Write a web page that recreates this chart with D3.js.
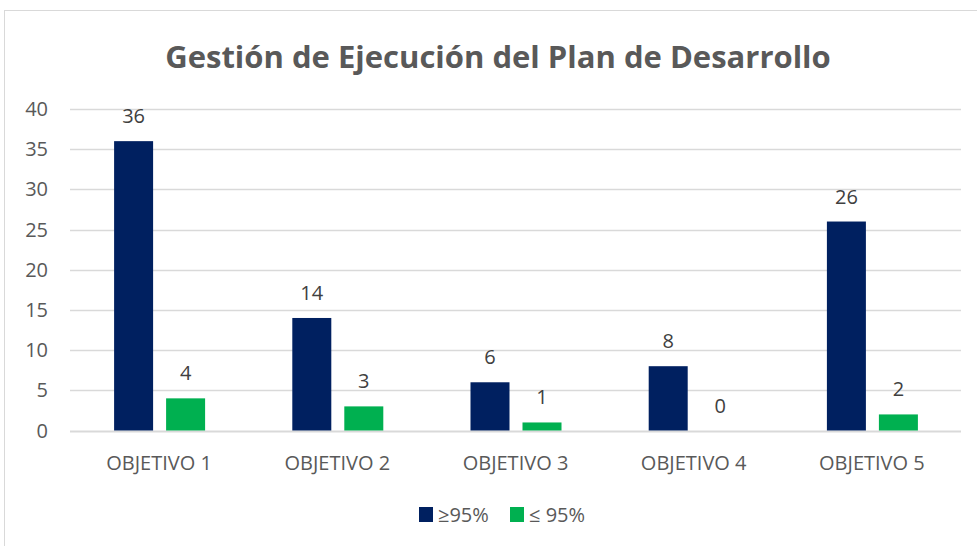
<!DOCTYPE html>
<html>
<head>
<meta charset="utf-8">
<script src="https://cdn.jsdelivr.net/npm/d3@7"></script>
<style>
  body { margin: 0; background: #fff; }
  text { font-family: "Open Sans", "Noto Sans", sans-serif; fill: #595959; }
</style>
</head>
<body>
<div id="chart"></div>
<script>
const categories = ["OBJETIVO 1", "OBJETIVO 2", "OBJETIVO 3", "OBJETIVO 4", "OBJETIVO 5"];
const seriesNames = ["≥95%", "≤ 95%"];
const seriesHigh = [36, 14, 6, 8, 26];
const seriesLow = [4, 3, 1, 0, 2];
const yTicks = [0, 5, 10, 15, 20, 25, 30, 35, 40];
const colors = ["#002060", "#00B050"];

const width = 977;
const height = 546;
const margin = { top: 109, right: 16, bottom: 115, left: 70 };

const svg = d3.select("#chart")
  .append("svg")
  .attr("width", width)
  .attr("height", height);

// chart border
svg.append("rect")
  .attr("x", 4.5)
  .attr("y", 10.5)
  .attr("width", width)
  .attr("height", height)
  .attr("fill", "none")
  .attr("stroke", "#d9d9d9");

svg.append("text")
  .attr("x", 498)
  .attr("y", 68)
  .attr("text-anchor", "middle")
  .style("font-size", "31px")
  .style("font-weight", "bold")
  .text("Gestión de Ejecución del Plan de Desarrollo");

const yScale = d3.scaleLinear()
  .domain([0, 40])
  .range([height - margin.bottom - 0.5, margin.top]);

const xScale = d3.scaleBand()
  .domain(categories)
  .range([margin.left, width - margin.right]);

const inner = d3.scaleBand()
  .domain(seriesNames)
  .range([0, 91])
  .paddingInner(0.25);

// gridlines
svg.append("g")
  .selectAll("line")
  .data(yTicks)
  .enter()
  .append("line")
  .attr("x1", margin.left)
  .attr("x2", width - margin.right)
  .attr("y1", d => Math.round(yScale(d)) + 0.5)
  .attr("y2", d => Math.round(yScale(d)) + 0.5)
  .attr("stroke", "#d9d9d9")
  .attr("stroke-width", d => d === 0 ? 2 : 1.5);

// y labels
svg.append("g")
  .selectAll("text")
  .data(yTicks)
  .enter()
  .append("text")
  .attr("x", 48)
  .attr("y", d => yScale(d) + 7)
  .attr("text-anchor", "end")
  .style("font-size", "20px")
  .text(d => d);

const rows = categories.map((c, i) => ({ category: c, values: [seriesHigh[i], seriesLow[i]] }));

const groups = svg.selectAll(".group")
  .data(rows)
  .enter()
  .append("g")
  .attr("class", "group")
  .attr("transform", d => `translate(${xScale(d.category) + xScale.bandwidth() / 2 - 45}, 0)`);

groups.selectAll("rect")
  .data(d => d.values.map((v, j) => ({ name: seriesNames[j], value: v, color: colors[j] })))
  .enter()
  .append("rect")
  .attr("x", d => inner(d.name))
  .attr("y", d => yScale(d.value))
  .attr("width", inner.bandwidth())
  .attr("height", d => yScale(0) - yScale(d.value))
  .attr("fill", d => d.color);

groups.selectAll(".label")
  .data(d => d.values.map((v, j) => ({ name: seriesNames[j], value: v })))
  .enter()
  .append("text")
  .attr("class", "label")
  .attr("x", d => inner(d.name) + inner.bandwidth() / 2)
  .attr("y", d => yScale(d.value) - 18)
  .attr("text-anchor", "middle")
  .style("font-size", "20px")
  .style("fill", "#404040")
  .text(d => d.value);

// category labels
svg.append("g")
  .selectAll("text")
  .data(categories)
  .enter()
  .append("text")
  .attr("x", d => xScale(d) + xScale.bandwidth() / 2)
  .attr("y", 470)
  .attr("text-anchor", "middle")
  .style("font-size", "20px")
  .text(d => d);

// legend
const legendX = [419, 510];
const legend = svg.append("g");
seriesNames.forEach((name, i) => {
  legend.append("rect")
    .attr("x", legendX[i])
    .attr("y", 507)
    .attr("width", 14)
    .attr("height", 15)
    .attr("fill", colors[i]);
  legend.append("text")
    .attr("x", legendX[i] + 19)
    .attr("y", 522)
    .style("font-size", "20px")
    .text(name);
});
</script>
</body>
</html>
